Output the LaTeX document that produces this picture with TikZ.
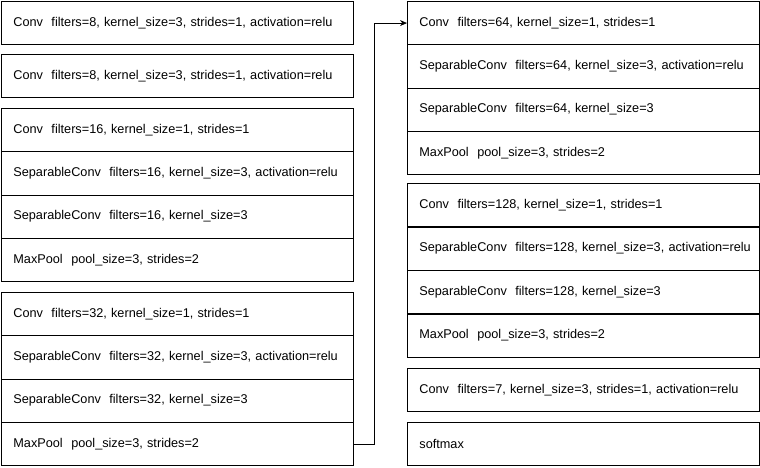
\documentclass[tikz,border=0pt]{standalone}
\usepackage{fontspec}
\setmainfont{Liberation Sans}
\usetikzlibrary{arrows.meta}

\begin{document}
\begin{tikzpicture}[x=1pt,y=-1pt,
  layer/.style={draw, line width=0.8pt, anchor=north west, minimum width=352pt,
    minimum height=43.3pt, text width=328pt, inner xsep=12pt, inner ysep=0pt, align=left,
    font=\fontsize{12.7}{14}\selectfont}]
\useasboundingbox (0,0) rectangle (760,468);

% left column
\node[layer] (c1) at (1,1) {\mbox{Conv~ filters=8, kernel\_size=3, strides=1, activation=relu}};
\node[layer] (c2) at (1,54) {\mbox{Conv~ filters=8, kernel\_size=3, strides=1, activation=relu}};

\node[layer] (b1) at (1,108) {\mbox{Conv~ filters=16, kernel\_size=1, strides=1}};
\node[layer] (b2) at (1,151.3) {\mbox{SeparableConv~ filters=16, kernel\_size=3, activation=relu}};
\node[layer] (b3) at (1,194.6) {\mbox{SeparableConv~ filters=16, kernel\_size=3}};
\node[layer] (b4) at (1,237.9) {\mbox{MaxPool~ pool\_size=3, strides=2}};

\node[layer] (d1) at (1,292) {\mbox{Conv~ filters=32, kernel\_size=1, strides=1}};
\node[layer] (d2) at (1,335.3) {\mbox{SeparableConv~ filters=32, kernel\_size=3, activation=relu}};
\node[layer] (d3) at (1,378.6) {\mbox{SeparableConv~ filters=32, kernel\_size=3}};
\node[layer] (d4) at (1,421.9) {\mbox{MaxPool~ pool\_size=3, strides=2}};

% right column
\node[layer] (e1) at (407,1) {\mbox{Conv~ filters=64, kernel\_size=1, strides=1}};
\node[layer] (e2) at (407,44.3) {\mbox{SeparableConv~ filters=64, kernel\_size=3, activation=relu}};
\node[layer] (e3) at (407,87.6) {\mbox{SeparableConv~ filters=64, kernel\_size=3}};
\node[layer] (e4) at (407,130.9) {\mbox{MaxPool~ pool\_size=3, strides=2}};

\node[layer] (f1) at (407,183) {\mbox{Conv~ filters=128, kernel\_size=1, strides=1}};
\node[layer] (f2) at (407,226.5) {\mbox{SeparableConv~ filters=128, kernel\_size=3, activation=relu}};
\node[layer] (f3) at (407,270) {\mbox{SeparableConv~ filters=128, kernel\_size=3}};
\node[layer] (f4) at (407,313.5) {\mbox{MaxPool~ pool\_size=3, strides=2}};

\node[layer] (g1) at (407,368) {\mbox{Conv~ filters=7, kernel\_size=3, strides=1, activation=relu}};
\node[layer] (g2) at (407,422) {\mbox{softmax}};

% link between columns
\draw[line width=0.8pt, -{Stealth[length=7pt,width=6pt]}] (d4.east) -- ++(21,0) |- (e1.west);
\end{tikzpicture}
\end{document}
